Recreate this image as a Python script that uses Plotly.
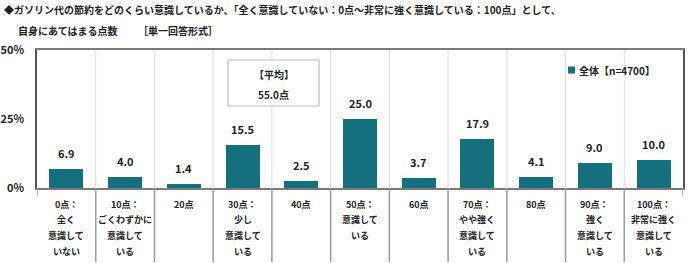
import plotly.graph_objects as go

# ---- data ----
categories = ["0点", "10点", "20点", "30点", "40点", "50点", "60点", "70点", "80点", "90点", "100点"]
values = [6.9, 4.0, 1.4, 15.5, 2.5, 25.0, 3.7, 17.9, 4.1, 9.0, 10.0]
cat_label_lines = [
    ["0点：", "全く", "意識して", "いない"],
    ["10点：", "ごくわずかに", "意識して", "いる"],
    ["20点"],
    ["30点：", "少し", "意識して", "いる"],
    ["40点"],
    ["50点：", "意識して", "いる"],
    ["60点"],
    ["70点：", "やや強く", "意識して", "いる"],
    ["80点"],
    ["90点：", "強く", "意識して", "いる"],
    ["100点：", "非常に強く", "意識して", "いる"],
]
y_tick_vals = [0, 25, 50]
y_tick_text = ["0%", "25%", "50%"]
series_name = "全体【n=4700】"
avg_title = "【平均】"
avg_value = "55.0点"
title_line1 = "◆ガソリン代の節約をどのくらい意識しているか、「全く意識していない：0点～非常に強く意識している：100点」として、"
title_line2a = "自身にあてはまる点数"
title_line2b = "［単一回答形式］"

# ---- layout geometry (pixels) ----
W, H = 690, 263
L, R, T, B = 37, 690 - 683, 50, 263 - 188
PW, PH = W - L - R, H - T - B
FONT = "Noto Sans CJK JP, Noto Sans, sans-serif"
TXT = "#222222"
BAR = "#15707d"

def px_x(px):
    return (px - L) / PW

def px_y(py):
    return (H - B - py) / PH

n = len(categories)
xs = list(range(n))

fig = go.Figure()
fig.add_trace(go.Bar(
    x=xs, y=values, width=0.58, marker=dict(color=BAR, line=dict(width=0)),
    name=series_name, showlegend=False, hoverinfo="skip",
))

shapes = []
annotations = []

# inner vertical gridlines
for i in range(n - 1):
    shapes.append(dict(type="line", xref="x", yref="y", x0=i + 0.5, x1=i + 0.5, y0=0, y1=50,
                       line=dict(color="#dcdcdc", width=1), layer="below"))
# separators under axis
for i in range(n - 1):
    shapes.append(dict(type="line", xref="x", yref="paper", x0=i + 0.5, x1=i + 0.5,
                       y0=0, y1=px_y(262), line=dict(color="#9a9a9a", width=1.5)))
for xe in (-0.5, n - 0.5):
    shapes.append(dict(type="line", xref="x", yref="paper", x0=xe, x1=xe,
                       y0=0, y1=px_y(196), line=dict(color="#9a9a9a", width=1.5)))

# data labels
for i, v in enumerate(values):
    annotations.append(dict(x=i, y=v, xref="x", yref="y", text=f"<b>{v:.1f}</b>",
                            showarrow=False, yanchor="bottom", yshift=6,
                            font=dict(family=FONT, size=11, color=TXT)))

# category labels
for i, lines in enumerate(cat_label_lines):
    for k, line in enumerate(lines):
        annotations.append(dict(x=i, y=px_y(204 + 15.7 * k), xref="x", yref="paper",
                                text=f"<b>{line}</b>", showarrow=False, yanchor="middle",
                                font=dict(family=FONT, size=9, color=TXT)))

# average box
shapes.append(dict(type="rect", xref="paper", yref="paper",
                   x0=px_x(228), x1=px_x(319), y0=px_y(106), y1=px_y(60),
                   line=dict(color="#bdbdbd", width=1.2), fillcolor="white"))
annotations.append(dict(x=px_x(273.5), y=px_y(74), xref="paper", yref="paper",
                        text=f"<b>{avg_title}</b>", showarrow=False, yanchor="middle",
                        font=dict(family=FONT, size=10, color=TXT)))
annotations.append(dict(x=px_x(273.5), y=px_y(94), xref="paper", yref="paper",
                        text=f"<b>{avg_value}</b>", showarrow=False, yanchor="middle",
                        font=dict(family=FONT, size=10, color=TXT)))

# legend (manual)
shapes.append(dict(type="rect", xref="paper", yref="paper",
                   x0=px_x(568), x1=px_x(575), y0=px_y(73.5), y1=px_y(66.5),
                   line=dict(width=0), fillcolor=BAR))
annotations.append(dict(x=px_x(577), y=px_y(70), xref="paper", yref="paper",
                        text=f"<b>{series_name}</b>", showarrow=False,
                        xanchor="left", yanchor="middle",
                        font=dict(family=FONT, size=10, color=TXT)))

# title
annotations.append(dict(x=px_x(2), y=px_y(9), xref="paper", yref="paper",
                        text=f"<b>{title_line1}</b>", showarrow=False,
                        xanchor="left", yanchor="middle",
                        font=dict(family=FONT, size=10, color=TXT)))
annotations.append(dict(x=px_x(16), y=px_y(30), xref="paper", yref="paper",
                        text=f"<b>{title_line2a}</b>", showarrow=False,
                        xanchor="left", yanchor="middle",
                        font=dict(family=FONT, size=10, color=TXT)))
annotations.append(dict(x=px_x(136), y=px_y(30), xref="paper", yref="paper",
                        text=f"<b>{title_line2b}</b>", showarrow=False,
                        xanchor="left", yanchor="middle",
                        font=dict(family=FONT, size=10, color=TXT)))

fig.update_layout(
    width=W, height=H,
    margin=dict(l=L, r=R, t=T, b=B, pad=0, autoexpand=False),
    paper_bgcolor="white", plot_bgcolor="white",
    bargap=0,
    showlegend=False,
    shapes=shapes, annotations=annotations,
    xaxis=dict(range=[-0.5, n - 0.5], showticklabels=False, ticks="", showgrid=False,
               zeroline=False, showline=True, mirror=True, linecolor="#7a7a7a", linewidth=1.5,
               fixedrange=True, automargin=False),
    yaxis=dict(range=[0, 50], tickvals=y_tick_vals,
               ticktext=[f"<b>{t}</b>" for t in y_tick_text],
               tickfont=dict(family=FONT, size=11, color=TXT), ticks="", ticklabelstandoff=9,
               showgrid=False, zeroline=False, showline=True, mirror=True,
               linecolor="#555555", linewidth=1.5, fixedrange=True, automargin=False),
)

fig.write_html("out.html")
